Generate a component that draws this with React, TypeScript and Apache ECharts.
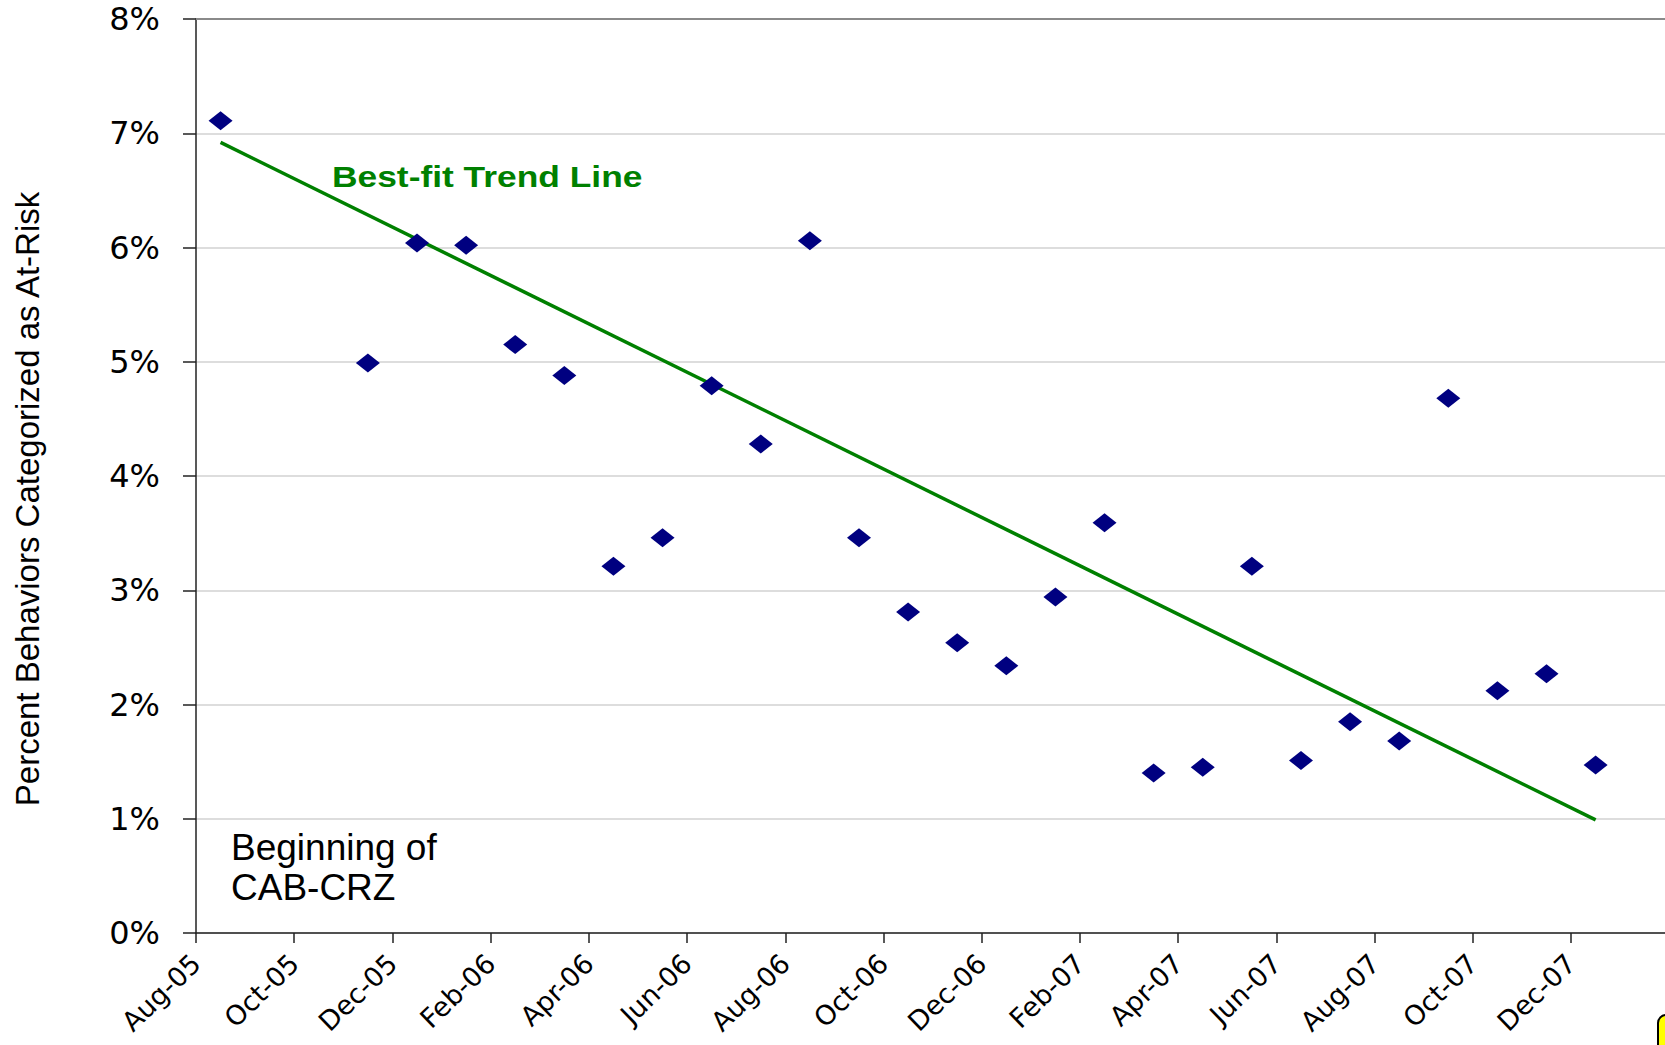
import React, { useEffect, useRef } from "react";
import * as echarts from "echarts";

// Observation months (points sit mid-month)
const months = [
  "Aug-05", "Nov-05", "Dec-05", "Jan-06", "Feb-06", "Mar-06", "Apr-06", "May-06", "Jun-06",
  "Jul-06", "Aug-06", "Sep-06", "Oct-06", "Nov-06", "Dec-06", "Jan-07", "Feb-07", "Mar-07",
  "Apr-07", "May-07", "Jun-07", "Jul-07", "Aug-07", "Sep-07", "Oct-07", "Nov-07", "Dec-07",
];
// Percent of behaviors categorized as at-risk
const values = [
  7.11, 4.99, 6.04, 6.02, 5.15, 4.88, 3.21, 3.46, 4.79,
  4.28, 6.06, 3.46, 2.81, 2.54, 2.34, 2.94, 3.59, 1.40,
  1.45, 3.21, 1.51, 1.85, 1.68, 4.68, 2.12, 2.27, 1.47,
];
// Best-fit trend line end points
const trendMonths = ["Aug-05", "Dec-07"];
const trendValues = [6.92, 0.99];
// X tick labels every two months starting Aug-05
const xTickLabels = [
  "Aug-05", "Oct-05", "Dec-05", "Feb-06", "Apr-06", "Jun-06", "Aug-06", "Oct-06",
  "Dec-06", "Feb-07", "Apr-07", "Jun-07", "Aug-07", "Oct-07", "Dec-07", "",
];
const yTicks = [0, 1, 2, 3, 4, 5, 6, 7, 8];
const yAxisTitle = "Percent Behaviors Categorized as At-Risk";

const MONTH_NAMES = ["Jan", "Feb", "Mar", "Apr", "May", "Jun", "Jul", "Aug", "Sep", "Oct", "Nov", "Dec"];
function monthIndex(label: string): number {
  const [m, y] = label.split("-");
  return MONTH_NAMES.indexOf(m) + (parseInt(y, 10) - 5) * 12 - 7;
}

const MONTH_PX = 49.11;
const GRID_LEFT = 196;
const GRID_TOP = 19;
const GRID_HEIGHT = 914;

export default function App() {
  const ref = useRef<HTMLDivElement>(null);
  useEffect(() => {
    if (!ref.current) return;
    const chart = echarts.init(ref.current, null, { renderer: "svg" });
    const xMax = (xTickLabels.length - 1) * 2;
    const scatterData = months.map((m, i) => [monthIndex(m) + 0.5, values[i]]);
    const trendData = trendMonths.map((m, i) => [monthIndex(m) + 0.5, trendValues[i]]);
    const option: any = {
      animation: false,
      backgroundColor: "#ffffff",
      grid: {
        left: GRID_LEFT,
        top: GRID_TOP,
        height: GRID_HEIGHT,
        width: xMax * MONTH_PX,
        containLabel: false,
        outerBoundsMode: "none",
      },
      xAxis: [
        {
          type: "value",
          min: 0,
          max: xMax,
          interval: 2,
          position: "bottom",
          axisLine: { show: true, lineStyle: { color: "#222222", width: 1.5 } },
          axisTick: { show: true, length: 10, lineStyle: { color: "#222222", width: 1.5 } },
          splitLine: { show: false },
          axisLabel: {
            rotate: 44,
            margin: 26,
            fontFamily: "DejaVu Sans",
            fontSize: 27,
            color: "#000000",
            showMaxLabel: false,
            formatter: (v: number) => xTickLabels[Math.round(v / 2)] ?? "",
          },
        },
        {
          type: "value",
          min: 0,
          max: xMax,
          interval: 2,
          position: "top",
          axisLine: { show: true, lineStyle: { color: "#8a8a8a", width: 2 } },
          axisTick: { show: false },
          axisLabel: { show: false },
          splitLine: { show: false },
        },
      ],
      yAxis: {
        type: "value",
        min: 0,
        max: 8,
        interval: 1,
        axisLine: { show: true, lineStyle: { color: "#222222", width: 1.5 } },
        axisTick: { show: true, length: 13, lineStyle: { color: "#222222", width: 1.5 } },
        splitLine: { show: true, lineStyle: { color: "#d2d2d2", width: 1.5 } },
        axisLabel: {
          margin: 36,
          fontFamily: "DejaVu Sans",
          fontSize: 32,
          color: "#000000",
          formatter: (v: number) => (yTicks.includes(v) ? `${v}%` : ""),
        },
      },
      series: [
        {
          type: "line",
          name: "Trend",
          data: trendData,
          showSymbol: false,
          symbol: "none",
          lineStyle: { color: "#008000", width: 3.5 },
          z: 2,
        },
        {
          type: "scatter",
          name: "At-Risk",
          data: scatterData,
          symbol: "diamond",
          symbolSize: [24, 19],
          itemStyle: { color: "#000080", opacity: 1 },
          z: 3,
        },
      ],
      graphic: [
        {
          type: "text",
          x: 27,
          y: 499,
          rotation: Math.PI / 2,
          style: {
            text: yAxisTitle,
            fontFamily: "Liberation Sans",
            fontSize: 33,
            fill: "#000000",
            align: "center",
            verticalAlign: "middle",
          },
        },
        {
          type: "text",
          left: 332,
          top: 163,
          scaleX: 1.22,
          style: {
            text: "Best-fit Trend Line",
            fontFamily: "Liberation Sans",
            fontWeight: "bold",
            fontSize: 29,
            fill: "#008000",
          },
        },
        {
          type: "text",
          left: 231,
          top: 827,
          style: {
            text: "Beginning of\nCAB-CRZ",
            fontFamily: "Liberation Sans",
            fontSize: 37,
            lineHeight: 40,
            fill: "#000000",
          },
        },
        {
          type: "rect",
          shape: { x: 1658, y: 1015, width: 60, height: 60, r: 8 },
          style: { fill: "#ffff00", stroke: "#000000", lineWidth: 2 },
        },
      ],
    };
    chart.setOption(option);
    return () => chart.dispose();
  }, []);
  return (
    <div
      ref={ref}
      style={{ position: "absolute", left: 0, top: 0, width: 1665, height: 1045 }}
    />
  );
}
